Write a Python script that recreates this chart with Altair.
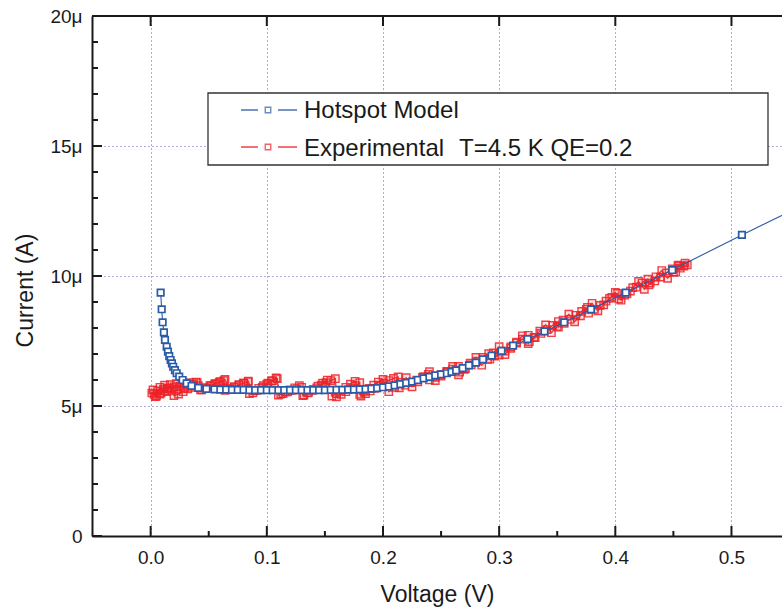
import altair as alt
import pandas as pd

# ---------------- data (Voltage in V, Current in microamps) ----------------
blue_v = [0.0086, 0.0095, 0.0103, 0.0114, 0.0123, 0.0138, 0.0149, 0.016, 0.0172, 0.0183,
          0.0194, 0.0209, 0.0224, 0.0246, 0.0275, 0.031, 0.0352, 0.041, 0.048,
          0.055, 0.060, 0.065, 0.070, 0.075, 0.080, 0.085, 0.090, 0.095, 0.100,
          0.105, 0.110, 0.115, 0.120, 0.125, 0.130, 0.135, 0.140, 0.145, 0.150,
          0.155, 0.160, 0.165, 0.170, 0.175, 0.180, 0.185, 0.190, 0.195, 0.200,
          0.205, 0.210, 0.215, 0.220, 0.225, 0.230, 0.235, 0.240, 0.245, 0.250,
          0.255, 0.259, 0.263, 0.2686, 0.274, 0.280, 0.286, 0.2935, 0.302, 0.312,
          0.3245, 0.339, 0.356, 0.379, 0.409, 0.449, 0.509, 0.580]
blue_i = [9.36, 8.72, 8.22, 7.83, 7.54, 7.28, 7.09, 6.92, 6.77, 6.64,
          6.51, 6.38, 6.26, 6.13, 6.00, 5.87, 5.77, 5.70, 5.66,
          5.64, 5.63, 5.63, 5.62, 5.62, 5.62, 5.61, 5.61, 5.61, 5.61,
          5.61, 5.61, 5.61, 5.61, 5.61, 5.61, 5.61, 5.61, 5.61, 5.61,
          5.62, 5.62, 5.62, 5.63, 5.63, 5.64, 5.65, 5.67, 5.69, 5.72,
          5.75, 5.79, 5.84, 5.89, 5.94, 6.00, 6.06, 6.12, 6.18, 6.22,
          6.26, 6.31, 6.37, 6.46, 6.56, 6.67, 6.79, 6.94, 7.12, 7.32,
          7.57, 7.87, 8.22, 8.72, 9.36, 10.23, 11.58, 13.13]

# experimental data, up sweep
red_up_v = [0.002, 0.003, 0.005, 0.006, 0.008, 0.009, 0.011, 0.012, 0.014, 0.015,
            0.017, 0.018, 0.020, 0.022, 0.023, 0.025, 0.027, 0.029, 0.031, 0.033,
            0.035, 0.037, 0.039, 0.041,
            0.043, 0.047, 0.051, 0.055, 0.059, 0.063,
            0.064, 0.068, 0.072, 0.076, 0.080, 0.084,
            0.085, 0.089, 0.093, 0.097, 0.101, 0.105, 0.109,
            0.110, 0.114, 0.118, 0.122, 0.126, 0.130,
            0.131, 0.135, 0.139, 0.143, 0.147, 0.151, 0.155, 0.159,
            0.160, 0.164, 0.168, 0.172, 0.176, 0.180,
            0.181, 0.185, 0.189, 0.193, 0.197, 0.201, 0.205, 0.209, 0.213,
            0.214, 0.219, 0.224, 0.229, 0.234, 0.239,
            0.240, 0.245, 0.250, 0.255, 0.260, 0.265,
            0.266, 0.271, 0.276, 0.281, 0.286, 0.291,
            0.292, 0.296,
            0.300, 0.305, 0.310, 0.315, 0.320, 0.325,
            0.326, 0.331, 0.336, 0.341, 0.346, 0.351,
            0.351, 0.356, 0.361, 0.366, 0.371, 0.376,
            0.377, 0.382, 0.387, 0.392, 0.397, 0.402,
            0.403, 0.408, 0.413, 0.418, 0.423, 0.428,
            0.429, 0.434, 0.439, 0.444, 0.449, 0.454,
            0.452, 0.456, 0.459, 0.462]
red_up_i = [5.62, 5.45, 5.38, 5.58, 5.72, 5.50, 5.65, 5.80, 5.55, 5.68,
            5.82, 5.60, 5.74, 5.86, 5.64, 5.76, 5.88, 5.68, 5.80, 5.90,
            5.72, 5.84, 5.92, 5.78,
            5.62, 5.70, 5.78, 5.85, 5.92, 5.98,
            5.60, 5.68, 5.75, 5.82, 5.88, 5.93,
            5.48, 5.58, 5.68, 5.78, 5.88, 5.98, 6.05,
            5.42, 5.48, 5.54, 5.60, 5.66, 5.72,
            5.40, 5.50, 5.60, 5.70, 5.80, 5.90, 5.98, 6.05,
            5.35, 5.45, 5.55, 5.66, 5.78, 5.90,
            5.38, 5.48, 5.58, 5.68, 5.78, 5.88, 5.98, 6.06, 6.12,
            5.70, 5.80, 5.90, 6.00, 6.10, 6.22,
            6.00, 6.10, 6.21, 6.31, 6.42, 6.52,
            6.30, 6.44, 6.58, 6.73, 6.87, 7.01,
            6.80, 6.92,
            6.96, 7.11, 7.27, 7.42, 7.57, 7.72,
            7.48, 7.63, 7.79, 7.94, 8.10, 8.25,
            8.03, 8.18, 8.33, 8.49, 8.64, 8.79,
            8.57, 8.72, 8.87, 9.03, 9.18, 9.33,
            9.11, 9.26, 9.42, 9.57, 9.73, 9.88,
            9.66, 9.81, 9.96, 10.12, 10.27, 10.42,
            10.15, 10.30, 10.38, 10.43]

# experimental data, down sweep
red_dn_v = [0.460, 0.455, 0.450, 0.445, 0.440, 0.435, 0.430, 0.425,
            0.420, 0.415, 0.410, 0.405, 0.400, 0.395, 0.390, 0.385,
            0.380, 0.375, 0.370, 0.365, 0.360, 0.355, 0.350, 0.345,
            0.340, 0.335, 0.330, 0.325, 0.320, 0.315, 0.310, 0.305,
            0.300, 0.295, 0.290, 0.285, 0.280, 0.275, 0.270, 0.265,
            0.260, 0.255, 0.250, 0.245, 0.240, 0.235, 0.230, 0.225,
            0.220, 0.215, 0.210, 0.205,
            0.200, 0.196, 0.192, 0.188, 0.184, 0.180,
            0.176, 0.172, 0.168, 0.164, 0.160, 0.156,
            0.152, 0.148, 0.144, 0.140, 0.136, 0.132,
            0.128, 0.124, 0.120, 0.116, 0.112,
            0.108, 0.104, 0.100, 0.096, 0.092, 0.088,
            0.084, 0.080, 0.076, 0.072, 0.068,
            0.064, 0.060, 0.056, 0.052, 0.048, 0.044,
            0.040, 0.036, 0.032, 0.028, 0.024, 0.020,
            0.016, 0.012, 0.008, 0.004, 0.001]
red_dn_i = [10.50, 10.39, 10.15, 9.91, 10.21, 9.97, 9.73, 9.49,
            9.79, 9.55, 9.31, 9.07, 9.37, 9.14, 8.89, 8.66,
            8.95, 8.72, 8.47, 8.24, 8.53, 8.30, 8.06, 7.82,
            8.12, 7.88, 7.64, 7.40, 7.70, 7.46, 7.22, 6.98,
            7.28, 7.04, 6.79, 6.57, 6.87, 6.65, 6.41, 6.20,
            6.52, 6.33, 6.15, 5.98, 6.32, 6.13, 5.93, 5.74,
            6.09, 5.91, 5.72, 5.55,
            6.02, 5.92, 5.80, 5.68, 5.56, 5.45,
            5.95, 5.84, 5.72, 5.60, 5.48, 5.38,
            6.00, 5.88, 5.76, 5.64, 5.52, 5.42,
            5.78, 5.70, 5.62, 5.54, 5.46,
            6.08, 5.96, 5.84, 5.72, 5.60, 5.50,
            5.96, 5.88, 5.80, 5.72, 5.64,
            6.02, 5.94, 5.86, 5.78, 5.70, 5.62,
            5.90, 5.78, 5.66, 5.55, 5.46, 5.40,
            5.70, 5.58, 5.46, 5.36, 5.50]

x_major_ticks = [0.0, 0.1, 0.2, 0.3, 0.4, 0.5]
x_minor_ticks = [0.05, 0.15, 0.25, 0.35, 0.45]
y_major_ticks = [0, 5, 10, 15, 20]
y_minor_ticks = [1, 2, 3, 4, 6, 7, 8, 9, 11, 12, 13, 14, 16, 17, 18, 19]

legend_labels = ["Hotspot Model", "Experimental", "T=4.5 K QE=0.2"]

# ---------------- layout ----------------
W, H = 690, 520
FONT = "Liberation Sans"
BLUE = "#2a5ba8"
RED = "#ec2228"
AXC = "#1a1a1a"
GRID = "#4a4ab4"

blue_df = pd.DataFrame({"v": blue_v, "i": blue_i})
red_all_v = red_up_v + red_dn_v
red_all_i = red_up_i + red_dn_i
red_df = pd.DataFrame({"v": red_all_v, "i": red_all_i, "k": list(range(len(red_all_v)))})
one = pd.DataFrame({"a": [0]})

xs = alt.Scale(domain=[-0.0505, 0.5435], nice=False, zero=False)
ys = alt.Scale(domain=[0, 20], nice=False, zero=True)

xax = alt.Axis(values=x_major_ticks, format=".1f", grid=True, gridColor=GRID, gridDash=[1, 3],
               gridWidth=1, gridOpacity=0.9, ticks=False, domainColor=AXC, domainWidth=2,
               labelPadding=12, labelFontSize=19, labelColor=AXC, labelFont=FONT,
               title="Voltage (V)", titleFontSize=23, titleFont=FONT, titleFontWeight="normal",
               titleColor=AXC, titleX=345, titleY=58, titleBaseline="middle", titleAlign="center")
yax = alt.Axis(values=y_major_ticks, labelExpr="datum.value == 0 ? '0' : datum.value + 'μ'",
               grid=True, gridColor=GRID, gridDash=[1, 3], gridWidth=1, gridOpacity=0.9,
               ticks=False, domainColor=AXC, domainWidth=2, labelPadding=10, labelFontSize=19,
               labelColor=AXC, labelFont=FONT,
               title="Current (A)", titleFontSize=23, titleFont=FONT, titleFontWeight="normal",
               titleColor=AXC, titleX=-67, titleY=274, titleAngle=270, titleBaseline="middle",
               titleAlign="center")


def X(f="v"):
    return alt.X(f"{f}:Q", scale=xs, axis=xax)


def Y(f="i"):
    return alt.Y(f"{f}:Q", scale=ys, axis=yax)


red_line = alt.Chart(red_df).mark_line(color=RED, strokeWidth=1.3, clip=True, opacity=0.9).encode(
    x=X(), y=Y(), order=alt.Order("k:Q"))
red_pts = alt.Chart(red_df).mark_point(shape="square", size=54, filled=True, fill=RED,
                                       fillOpacity=0.12, stroke=RED, strokeOpacity=0.85,
                                       strokeWidth=1.4, clip=True).encode(x=X(), y=Y())
blue_line = alt.Chart(blue_df).mark_line(color=BLUE, strokeWidth=1.1, clip=True).encode(x=X(), y=Y())
blue_pts = alt.Chart(blue_df).mark_point(shape="square", size=42, filled=True, fill="white",
                                         stroke=BLUE, strokeWidth=1.7, opacity=1, clip=True).encode(
    x=X(), y=Y())

# axis tick marks (drawn inward)
xt_major = pd.DataFrame({"v": x_major_ticks})
xt_minor = pd.DataFrame({"v": x_minor_ticks})
yt_major = pd.DataFrame({"i": y_major_ticks})
yt_minor = pd.DataFrame({"i": y_minor_ticks})

tick_style = dict(color=AXC, strokeWidth=2)
xb_major = alt.Chart(xt_major).mark_rule(**tick_style).encode(x=X(), y=alt.value(H), y2=alt.value(H - 10))
xb_minor = alt.Chart(xt_minor).mark_rule(**tick_style).encode(x=X(), y=alt.value(H), y2=alt.value(H - 5))
xt_top = alt.Chart(xt_major).mark_rule(**tick_style).encode(x=X(), y=alt.value(0), y2=alt.value(10))
yl_major = alt.Chart(yt_major).mark_rule(**tick_style).encode(y=Y(), x=alt.value(0), x2=alt.value(10))
yl_minor = alt.Chart(yt_minor).mark_rule(**tick_style).encode(y=Y(), x=alt.value(0), x2=alt.value(6))
top_border = alt.Chart(one).mark_rule(color=AXC, strokeWidth=2).encode(
    x=alt.value(0), x2=alt.value(W), y=alt.value(0))

# legend (drawn by hand)
leg_box = alt.Chart(one).mark_rect(fill="white", stroke="#333333", strokeWidth=1.3).encode(
    x=alt.value(116), x2=alt.value(676), y=alt.value(77), y2=alt.value(149))


def seg(x1, x2, y, c):
    return alt.Chart(one).mark_rule(color=c, strokeWidth=1.3).encode(
        x=alt.value(x1), x2=alt.value(x2), y=alt.value(y))


leg_layers = [
    seg(149, 166, 94, BLUE), seg(186, 205, 94, BLUE),
    seg(149, 166, 131, RED), seg(186, 205, 131, RED),
    alt.Chart(one).mark_point(shape="square", size=30, filled=True, fill="white", stroke=BLUE,
                              strokeWidth=1.4).encode(x=alt.value(176), y=alt.value(94)),
    alt.Chart(one).mark_point(shape="square", size=30, filled=True, fill="white", stroke=RED,
                              strokeWidth=1.4).encode(x=alt.value(176), y=alt.value(131)),
    alt.Chart(one).mark_text(text=legend_labels[0], font=FONT, fontSize=24, align="left",
                             baseline="alphabetic", color=AXC).encode(x=alt.value(212), y=alt.value(102)),
    alt.Chart(one).mark_text(text=legend_labels[1], font=FONT, fontSize=24, align="left",
                             baseline="alphabetic", color=AXC).encode(x=alt.value(212), y=alt.value(140)),
    alt.Chart(one).mark_text(text=legend_labels[2], font=FONT, fontSize=24, align="left",
                             baseline="alphabetic", color=AXC).encode(x=alt.value(367), y=alt.value(140)),
]

chart = alt.layer(
    red_line, red_pts, blue_line, blue_pts,
    xb_major, xb_minor, xt_top, yl_major, yl_minor, top_border,
    leg_box, *leg_layers
).properties(
    width=W, height=H,
    autosize=alt.AutoSizeParams(type="none"),
    padding={"left": 92, "top": 16, "right": 0, "bottom": 74},
).configure_view(stroke=None).configure(background="white")

chart.save("out.html", embed_options={"renderer": "svg", "actions": False})
